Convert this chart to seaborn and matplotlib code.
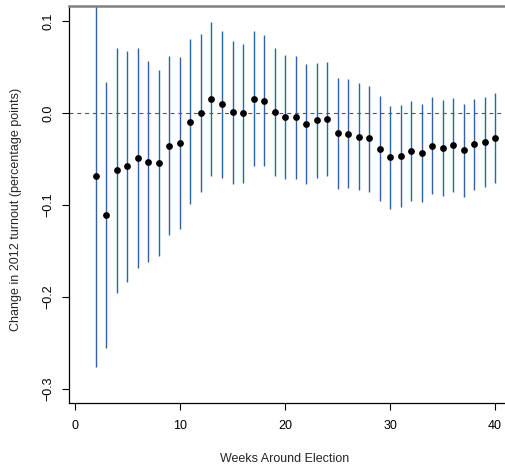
#!/usr/bin/env python3

import matplotlib

matplotlib.use("Agg")

import matplotlib.pyplot as plt
import pandas as pd
import seaborn as sns

weeks = list(range(2, 41))

estimate = [
    -0.0685, -0.1105, -0.0623, -0.0576, -0.0493, -0.0529, -0.0543, -0.0359, -0.0322, -0.0094,
    -0.0004, 0.0152, 0.0094, 0.0008, -0.0004, 0.0156, 0.0134, 0.0014, -0.0040, -0.0047,
    -0.0120, -0.0080, -0.0065, -0.0221, -0.0225, -0.0257, -0.0275, -0.0388, -0.0482, -0.0467,
    -0.0413, -0.0431, -0.0355, -0.0377, -0.0348, -0.0402, -0.0337, -0.0312, -0.0268,
]

upper = [
    0.1400, 0.0340, 0.0703, 0.0677, 0.0703, 0.0562, 0.0464, 0.0620, 0.0612, 0.0804,
    0.0855, 0.0986, 0.0891, 0.0783, 0.0754, 0.0891, 0.0852, 0.0707, 0.0630, 0.0620,
    0.0529, 0.0547, 0.0550, 0.0384, 0.0366, 0.0322, 0.0297, 0.0181, 0.0080, 0.0087,
    0.0134, 0.0101, 0.0170, 0.0141, 0.0163, 0.0098, 0.0156, 0.0178, 0.0214,
]

lower = [
    -0.2757, -0.2550, -0.1953, -0.1837, -0.1690, -0.1620, -0.1550, -0.1330, -0.1257, -0.0993,
    -0.0855, -0.0680, -0.0703, -0.0768, -0.0757, -0.0576, -0.0580, -0.0680, -0.0717, -0.0717,
    -0.0768, -0.0710, -0.0680, -0.0826, -0.0819, -0.0840, -0.0855, -0.0957, -0.1043, -0.1022,
    -0.0957, -0.0964, -0.0877, -0.0899, -0.0862, -0.0910, -0.0837, -0.0804, -0.0757,
]

y_ticks = [-0.3, -0.2, -0.1, 0.0, 0.1]
y_tick_labels = ["\u22120.3", "\u22120.2", "\u22120.1", "0.0", "0.1"]
x_ticks = [0, 10, 20, 30, 40]


def main():
    df = pd.DataFrame({"week": weeks, "estimate": estimate, "lower": lower, "upper": upper})

    sns.set_style("ticks")
    plt.rcParams["font.family"] = ["Liberation Sans", "DejaVu Sans"]

    fig = plt.figure(figsize=(5.05, 4.71), dpi=100)
    ax = fig.add_axes([69 / 505, 68 / 471, 436 / 505, 397 / 471])

    ax.axhline(0, color="#555555", lw=0.8, ls=(0, (3.5, 3.5)), zorder=1)
    ax.vlines(df.week, df.lower, df.upper, color="#2f64a3", lw=1.0, zorder=2)
    sns.scatterplot(
        data=df, x="week", y="estimate", color="black", s=24, edgecolor="black", linewidth=0, ax=ax, zorder=3
    )

    ax.set_xlim(-0.57, 40.95)
    ax.set_ylim(-0.3153, 0.1163)

    ax.set_xticks(x_ticks)
    ax.set_yticks(y_ticks)
    ax.set_yticklabels(y_tick_labels, rotation=90, va="center")

    ax.tick_params(axis="both", length=5, width=0.8, color="black", labelsize=9, labelcolor="black")
    ax.tick_params(axis="x", pad=7.5)
    ax.tick_params(axis="y", pad=5.5)

    ax.set_xlabel("Weeks Around Election", fontsize=9)
    ax.set_ylabel("Change in 2012 turnout (percentage points)", fontsize=9)
    ax.xaxis.set_label_coords((285 - 69) / 436, (403 - 459) / 397)
    ax.yaxis.set_label_coords((16 - 69) / 436, (403 - 209) / 397)
    ax.xaxis.label.set_va("center")
    ax.yaxis.label.set_va("center")

    for side in ["left", "bottom"]:
        ax.spines[side].set_color("black")
        ax.spines[side].set_linewidth(0.9)
    ax.spines["top"].set_visible(True)
    ax.spines["top"].set_color("#808080")
    ax.spines["top"].set_linewidth(1.8)
    ax.spines["right"].set_visible(False)

    fig.savefig("out.png", dpi=100)
    plt.close(fig)


if __name__ == "__main__":
    main()
